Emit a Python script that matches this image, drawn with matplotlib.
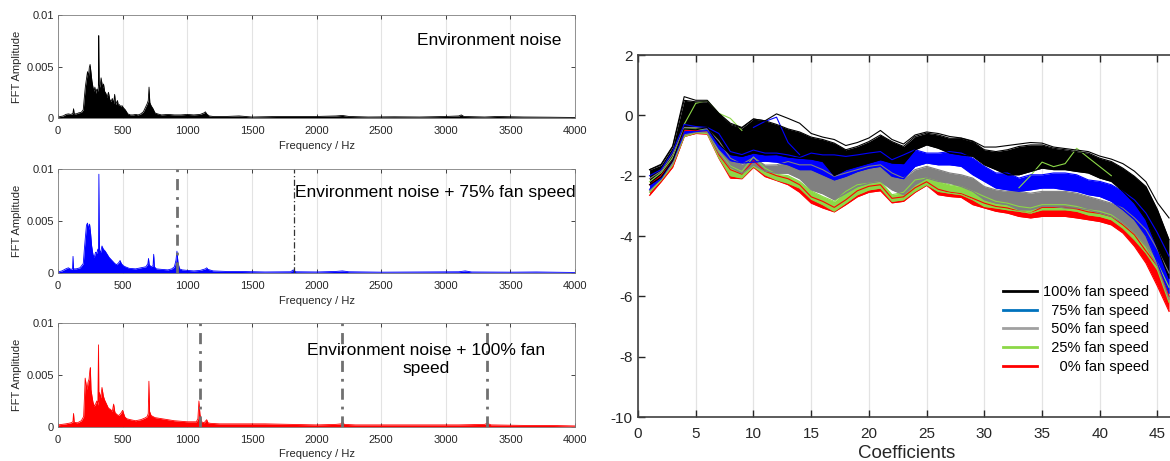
import matplotlib
matplotlib.use("Agg")
import matplotlib.pyplot as plt
import numpy as np

plt.rcParams['font.family'] = ['Liberation Sans', 'DejaVu Sans']
plt.rcParams['axes.unicode_minus'] = False

# ----------------------------------------------------------------------------
# FFT spectra (frequency in Hz, amplitude in units of 1e-3)
f_env = [
    0, 20, 40, 60, 80, 100, 115, 120, 125, 140,
    160, 180, 195, 205, 212, 220, 228, 235, 242, 248,
    255, 262, 270, 278, 285, 292, 300, 306, 312, 315,
    318, 325, 333, 338, 345, 352, 360, 370, 380, 390,
    400, 410, 420, 430, 438, 445, 452, 460, 466, 475,
    485, 495, 505, 520, 540, 560, 580, 600, 620, 640,
    660, 675, 690, 698, 704, 710, 720, 735, 750, 770,
    800, 850, 900, 950, 1000, 1050, 1100, 1130, 1140, 1150,
    1170, 1200, 1300, 1400, 1500, 1700, 1800, 2000, 2150, 2200,
    2250, 2400, 2600, 2800, 3000, 3100, 3120, 3140, 3300, 3400,
    3600, 3800, 4000]
a_env = [
    0.1, 0.15, 0.2, 0.35, 0.4, 0.35, 0.45, 0.9, 0.4, 0.4,
    0.5, 0.55, 0.8, 2.2, 3.1, 3.8, 4.5, 4.0, 4.9, 5.2,
    4.4, 3.6, 3.0, 2.6, 3.0, 2.4, 2.8, 2.6, 3.0, 8.0,
    3.2, 3.0, 3.9, 3.5, 2.9, 3.3, 2.6, 2.4, 2.0, 2.5,
    1.8, 1.6, 1.9, 1.4, 2.3, 1.3, 1.5, 1.7, 1.2, 1.3,
    1.1, 1.2, 1.0, 0.8, 0.4, 0.3, 0.3, 0.35, 0.3, 0.4,
    0.6, 1.0, 1.4, 1.7, 3.0, 1.5, 1.2, 0.9, 0.5, 0.4,
    0.3, 0.35, 0.3, 0.3, 0.35, 0.3, 0.35, 0.5, 0.6, 0.4,
    0.2, 0.15, 0.15, 0.2, 0.1, 0.15, 0.15, 0.15, 0.2, 0.25,
    0.15, 0.1, 0.12, 0.1, 0.15, 0.2, 0.3, 0.15, 0.1, 0.15,
    0.1, 0.08, 0.05]

f_75 = [
    0, 30, 60, 80, 100, 112, 116, 120, 140, 170,
    195, 205, 212, 220, 228, 236, 244, 252, 260, 270,
    280, 290, 300, 308, 313, 316, 320, 330, 340, 350,
    365, 380, 395, 410, 425, 440, 455, 470, 480, 490,
    505, 520, 550, 600, 640, 680, 695, 700, 705, 720,
    735, 740, 745, 760, 800, 850, 880, 900, 912, 920,
    928, 940, 960, 1000, 1050, 1100, 1140, 1150, 1160, 1200,
    1300, 1400, 1600, 1800, 1820, 1840, 2000, 2150, 2200, 2250,
    2500, 2800, 3100, 3150, 3200, 3500, 3700, 4000]
a_75 = [
    0.1, 0.2, 0.4, 0.5, 0.35, 0.4, 1.6, 0.4, 0.4, 0.5,
    0.9, 2.5, 3.5, 4.6, 4.8, 4.2, 4.7, 3.8, 2.6, 1.8,
    1.5, 2.0, 1.9, 2.3, 2.0, 9.5, 2.2, 2.0, 2.6, 2.3,
    2.1, 1.8, 1.5, 1.3, 1.1, 0.9, 0.8, 1.0, 1.2, 0.9,
    0.7, 0.6, 0.45, 0.4, 0.5, 0.6, 0.9, 1.4, 0.8, 0.6,
    0.7, 1.8, 0.6, 0.4, 0.35, 0.3, 0.4, 0.6, 1.2, 2.1,
    1.0, 0.4, 0.3, 0.25, 0.2, 0.25, 0.4, 0.5, 0.35, 0.2,
    0.15, 0.15, 0.1, 0.12, 0.3, 0.12, 0.1, 0.15, 0.2, 0.12,
    0.08, 0.1, 0.12, 0.2, 0.1, 0.08, 0.1, 0.05]

f_100 = [
    0, 30, 60, 100, 115, 120, 125, 150, 180, 198,
    205, 210, 218, 225, 232, 240, 246, 250, 255, 262,
    270, 280, 290, 300, 308, 313, 316, 320, 330, 340,
    350, 360, 375, 390, 405, 420, 430, 440, 455, 470,
    485, 500, 515, 530, 560, 600, 640, 670, 690, 698,
    703, 708, 720, 750, 800, 850, 900, 950, 1000, 1050,
    1070, 1082, 1090, 1098, 1110, 1130, 1150, 1160, 1180, 1250,
    1400, 1600, 1800, 2000, 2150, 2190, 2200, 2215, 2300, 2500,
    2800, 3100, 3300, 3320, 3350, 3600, 3800, 4000]
a_100 = [
    0.2, 0.25, 0.3, 0.4, 0.5, 1.3, 0.45, 0.4, 0.6, 1.0,
    3.0, 4.7, 4.0, 3.6, 4.3, 4.6, 5.4, 5.7, 3.6, 3.0,
    2.4, 2.0, 2.2, 2.5, 2.1, 7.9, 2.4, 3.3, 2.8, 3.8,
    3.0, 2.6, 2.2, 1.8, 1.7, 1.5, 2.2, 1.4, 1.2, 1.1,
    1.3, 1.6, 1.0, 0.8, 0.7, 0.6, 0.7, 0.85, 1.0, 1.3,
    4.4, 1.5, 1.1, 0.9, 0.8, 0.7, 0.6, 0.55, 0.5, 0.5,
    0.5, 0.8, 2.5, 1.2, 0.5, 0.4, 0.7, 0.4, 0.35, 0.3,
    0.3, 0.3, 0.25, 0.2, 0.25, 0.3, 0.5, 0.25, 0.2, 0.2,
    0.2, 0.2, 0.25, 0.35, 0.2, 0.15, 0.15, 0.1]

# fan harmonics (Hz)
harm_75 = [920, 1825]
harm_100 = [1095, 2195, 3320]

# ----------------------------------------------------------------------------
# Coefficient bands (lower / upper envelope per fan speed)
coef = list(range(1, 47))

black_hi = [-1.80, -1.65, -1.05, 0.50, 0.45, 0.45, 0.05, -0.30, -0.42, -0.12,
            -0.18, -0.30, -0.45, -0.55, -0.72, -0.80, -0.92, -1.14, -1.03, -0.87,
            -0.65, -0.87, -1.03, -0.70, -0.59, -0.65, -0.76, -0.76, -0.87, -1.14,
            -1.20, -1.14, -1.03, -0.98, -0.98, -1.09, -1.14, -1.20, -1.25, -1.42,
            -1.53, -1.75, -2.02, -2.36, -3.13, -4.12]
black_lo = [-2.30, -2.05, -1.50, -0.45, -0.48, -0.40, -0.95, -1.30, -1.36, -1.25,
            -1.31, -1.30, -1.38, -1.42, -1.45, -1.53, -2.00, -1.80, -1.69, -1.58,
            -1.47, -1.58, -1.60, -1.14, -0.98, -1.09, -1.25, -1.31, -1.36, -1.64,
            -1.80, -1.97, -1.97, -1.86, -1.75, -1.80, -1.80, -1.86, -1.91, -2.08,
            -2.19, -2.52, -2.91, -3.46, -4.40, -5.40]
blue_hi = [-2.00, -1.80, -1.20, -0.30, -0.37, -0.40, -0.60, -1.20, -1.30, -1.15,
           -1.25, -1.25, -1.31, -1.40, -1.25, -1.31, -1.31, -1.36, -1.31, -1.25,
           -1.20, -1.47, -1.31, -1.14, -1.25, -1.25, -1.20, -1.25, -1.42, -1.69,
           -1.91, -1.91, -2.08, -1.97, -1.97, -1.91, -1.91, -1.97, -2.14, -2.19,
           -2.30, -2.52, -2.80, -3.24, -3.90, -4.67]
blue_lo = [-2.45, -2.10, -1.50, -0.60, -0.54, -0.50, -1.10, -1.50, -1.58, -1.55,
           -1.52, -1.55, -1.64, -1.80, -1.80, -1.97, -2.14, -2.02, -1.86, -1.75,
           -1.69, -2.02, -2.10, -1.69, -1.58, -1.64, -1.64, -1.69, -1.97, -2.19,
           -2.41, -2.47, -2.52, -2.47, -2.41, -2.41, -2.47, -2.52, -2.63, -2.69,
           -2.85, -3.13, -3.46, -4.00, -4.90, -5.90]
gray_hi = [-2.10, -1.85, -1.30, -0.40, -0.40, -0.45, -0.85, -1.42, -1.62, -1.40,
           -1.65, -1.64, -1.53, -1.64, -1.64, -1.80, -2.02, -1.91, -1.80, -1.69,
           -1.64, -1.91, -2.08, -1.80, -1.69, -1.80, -1.91, -1.97, -2.08, -2.36,
           -2.47, -2.52, -2.52, -2.58, -2.52, -2.52, -2.52, -2.58, -2.69, -2.80,
           -2.91, -3.08, -3.40, -3.79, -4.45, -5.23]
gray_lo = [-2.50, -2.10, -1.60, -0.65, -0.55, -0.55, -1.25, -1.72, -1.92, -1.65,
           -1.85, -1.92, -1.92, -2.10, -2.47, -2.60, -2.80, -2.58, -2.36, -2.25,
           -2.19, -2.47, -2.63, -2.30, -2.08, -2.19, -2.25, -2.36, -2.52, -2.80,
           -2.91, -2.96, -3.13, -3.13, -3.02, -3.02, -3.07, -3.07, -3.13, -3.24,
           -3.35, -3.57, -3.90, -4.34, -5.00, -6.10]
green_hi = [-2.20, -1.90, -1.40, -0.45, -0.45, -0.50, -1.20, -1.68, -1.86, -1.38,
            -1.75, -1.95, -2.00, -2.19, -2.50, -2.69, -2.85, -2.52, -2.30, -2.25,
            -2.19, -2.63, -2.55, -2.14, -2.08, -2.19, -2.30, -2.36, -2.52, -2.69,
            -2.85, -2.91, -3.02, -3.07, -2.96, -2.96, -2.96, -3.02, -3.13, -3.18,
            -3.30, -3.57, -3.90, -4.34, -4.90, -5.70]
green_lo = [-2.55, -2.15, -1.65, -0.70, -0.58, -0.60, -1.40, -2.00, -2.08, -1.69,
            -1.97, -2.14, -2.25, -2.41, -2.78, -2.96, -3.18, -2.91, -2.63, -2.47,
            -2.41, -2.85, -2.80, -2.52, -2.30, -2.52, -2.58, -2.63, -2.80, -3.02,
            -3.07, -3.13, -3.18, -3.24, -3.13, -3.13, -3.13, -3.18, -3.30, -3.35,
            -3.46, -3.74, -4.12, -4.56, -5.13, -6.20]
red_hi = [-2.30, -2.00, -1.50, -0.50, -0.50, -0.55, -1.30, -1.80, -1.95, -1.50,
          -1.85, -2.00, -2.10, -2.30, -2.70, -2.85, -3.05, -2.80, -2.50, -2.35,
          -2.30, -2.75, -2.70, -2.40, -2.20, -2.45, -2.55, -2.60, -2.75, -2.91,
          -3.02, -3.07, -3.18, -3.24, -3.05, -3.05, -3.05, -3.10, -3.20, -3.25,
          -3.35, -3.63, -3.96, -4.50, -5.00, -6.00]
red_lo = [-2.65, -2.20, -1.72, -0.70, -0.60, -0.62, -1.42, -2.08, -2.10, -1.72,
          -2.03, -2.16, -2.30, -2.55, -2.91, -3.07, -3.20, -2.96, -2.70, -2.55,
          -2.50, -2.90, -2.85, -2.55, -2.32, -2.63, -2.69, -2.72, -2.96, -3.07,
          -3.18, -3.24, -3.35, -3.40, -3.35, -3.35, -3.35, -3.40, -3.46, -3.52,
          -3.63, -3.90, -4.34, -4.90, -5.67, -6.50]

# a few single curves that stick out of the bands
black_out = [-1.80, -1.62, -1.02, 0.62, 0.50, 0.50, 0.07, -0.26, -0.40, -0.12,
             -0.18, 0.05, -0.10, -0.26, -0.60, -0.72, -0.80, -1.00, -0.90, -0.75,
             -0.50, -0.80, -0.95, -0.65, -0.55, -0.60, -0.70, -0.75, -0.85, -1.05,
             -1.05, -1.00, -0.95, -0.90, -0.92, -1.05, -1.10, -1.15, -1.20, -1.35,
             -1.45, -1.60, -1.85, -2.20, -2.90, -3.40]
blue_out_x = [10, 11, 12, 13, 14]
blue_out_y = [-0.40, -0.20, -0.06, -0.90, -1.30]
green_out_x = [4, 5, 6, 7, 8, 9]
green_out_y = [-0.30, 0.40, 0.49, 0.07, -0.10, -0.50]
green_out2_x = [33, 34, 35, 36, 37, 38, 39, 40, 41]
green_out2_y = [-2.40, -2.00, -1.55, -1.70, -1.60, -1.09, -1.40, -1.70, -2.00]

labels = ["100% fan speed", "  75% fan speed", "  50% fan speed",
          "  25% fan speed", "    0% fan speed"]

# ----------------------------------------------------------------------------
fig = plt.figure(figsize=(11.7, 4.61), dpi=100)

panels = [
    ([0.0496, 0.744, 0.4419, 0.2234], f_env, a_env, "black", []),
    ([0.0496, 0.4078, 0.4419, 0.2256], f_75, a_75, "#0000ff", harm_75),
    ([0.0496, 0.0738, 0.4419, 0.2256], f_100, a_100, "#ff0000", harm_100),
]
texts = [
    (2778, 0.0075, "Environment noise", "left"),
    (1834, 0.0077, "Environment noise + 75% fan speed", "left"),
    (2847, 0.0065, "Environment noise + 100% fan\nspeed", "center"),
]

for i, (pos, f, a, col, harm) in enumerate(panels):
    ax = fig.add_axes(pos)
    amp = np.array(a) * 1e-3
    ax.fill_between(f, 0, amp, color=col, lw=0)
    ax.plot(f, amp, color=col, lw=0.6)
    for j, h in enumerate(harm):
        if i == 1 and j == 1:
            ax.axvline(h, color="#333333", lw=0.9, ls=(0, (5, 2, 1, 2)))
        else:
            ax.axvline(h, color="#707070", lw=2.0, ls=(0, (4, 2.5, 1, 2.5)))
    ax.set_xlim(0, 4000)
    ax.set_ylim(0, 0.01)
    ax.set_xticks(range(0, 4001, 500))
    ax.set_yticks([0, 0.005, 0.01])
    ax.set_yticklabels(["0", "0.005", "0.01"])
    ax.tick_params(direction="in", top=True, right=True, labelsize=8,
                   length=3, width=0.6, colors="#262626", pad=3)
    ax.tick_params(axis="x", pad=6)
    ax.grid(axis="x", color="#e3e3e3", lw=0.8)
    ax.set_axisbelow(True)
    for s in ax.spines.values():
        s.set_color("#7f7f7f")
        s.set_linewidth(0.6)
    ax.set_xlabel("Frequency / Hz", fontsize=8, labelpad=3, color="#262626")
    ax.set_ylabel("FFT Amplitude", fontsize=8, labelpad=3, color="#262626")
    tx, ty, t, ha = texts[i]
    ax.text(tx, ty, t, fontsize=12.5, ha=ha, va="center", multialignment="center")

# ----------------------------------------------------------------------------
axr = fig.add_axes([0.5453, 0.0954, 0.4598, 0.7852])

bands = [
    (red_lo, red_hi, "#ff0000"),
    (green_lo, green_hi, "#8cd847"),
    (gray_lo, gray_hi, "#808080"),
    (blue_lo, blue_hi, "#0000ff"),
    (black_lo, black_hi, "#000000"),
]
for lo, hi, col in bands:
    axr.fill_between(coef, lo, hi, color=col, lw=0)
    axr.plot(coef, lo, color=col, lw=0.8)
    axr.plot(coef, hi, color=col, lw=0.8)
    if col == "#8cd847":
        axr.plot(green_out_x, green_out_y, color=col, lw=0.8)
        axr.plot(green_out2_x, green_out2_y, color=col, lw=0.8)
    if col == "#0000ff":
        axr.plot(blue_out_x, blue_out_y, color=col, lw=0.8)
axr.plot(coef, black_out, color="black", lw=0.8)

axr.set_xlim(0, 46.6)
axr.set_ylim(-10, 2)
axr.set_xticks(range(0, 46, 5))
axr.set_yticks(range(-10, 3, 2))
axr.tick_params(direction="in", top=True, labelsize=11, length=5, width=1,
                colors="#262626", pad=4)
axr.tick_params(axis="x", pad=7)
axr.grid(axis="x", color="#e3e3e3", lw=0.9)
axr.set_axisbelow(True)
for s in axr.spines.values():
    s.set_color("#404040")
    s.set_linewidth(1.2)
axr.spines["right"].set_visible(False)
axr.set_xlabel("Coefficients", fontsize=13.5, labelpad=3, color="#262626")

handles = [
    plt.Line2D([], [], color="black", lw=2),
    plt.Line2D([], [], color="#0072bd", lw=2),
    plt.Line2D([], [], color="#a0a0a0", lw=2),
    plt.Line2D([], [], color="#8cd847", lw=2),
    plt.Line2D([], [], color="#ff0000", lw=2),
]
axr.legend(handles, labels, loc="upper left", bbox_to_anchor=(0.665, 0.385),
           frameon=False, fontsize=10.5, handlelength=2.3, handletextpad=0.45,
           labelspacing=0.32, borderpad=0)

plt.savefig("out.png", dpi=100)
